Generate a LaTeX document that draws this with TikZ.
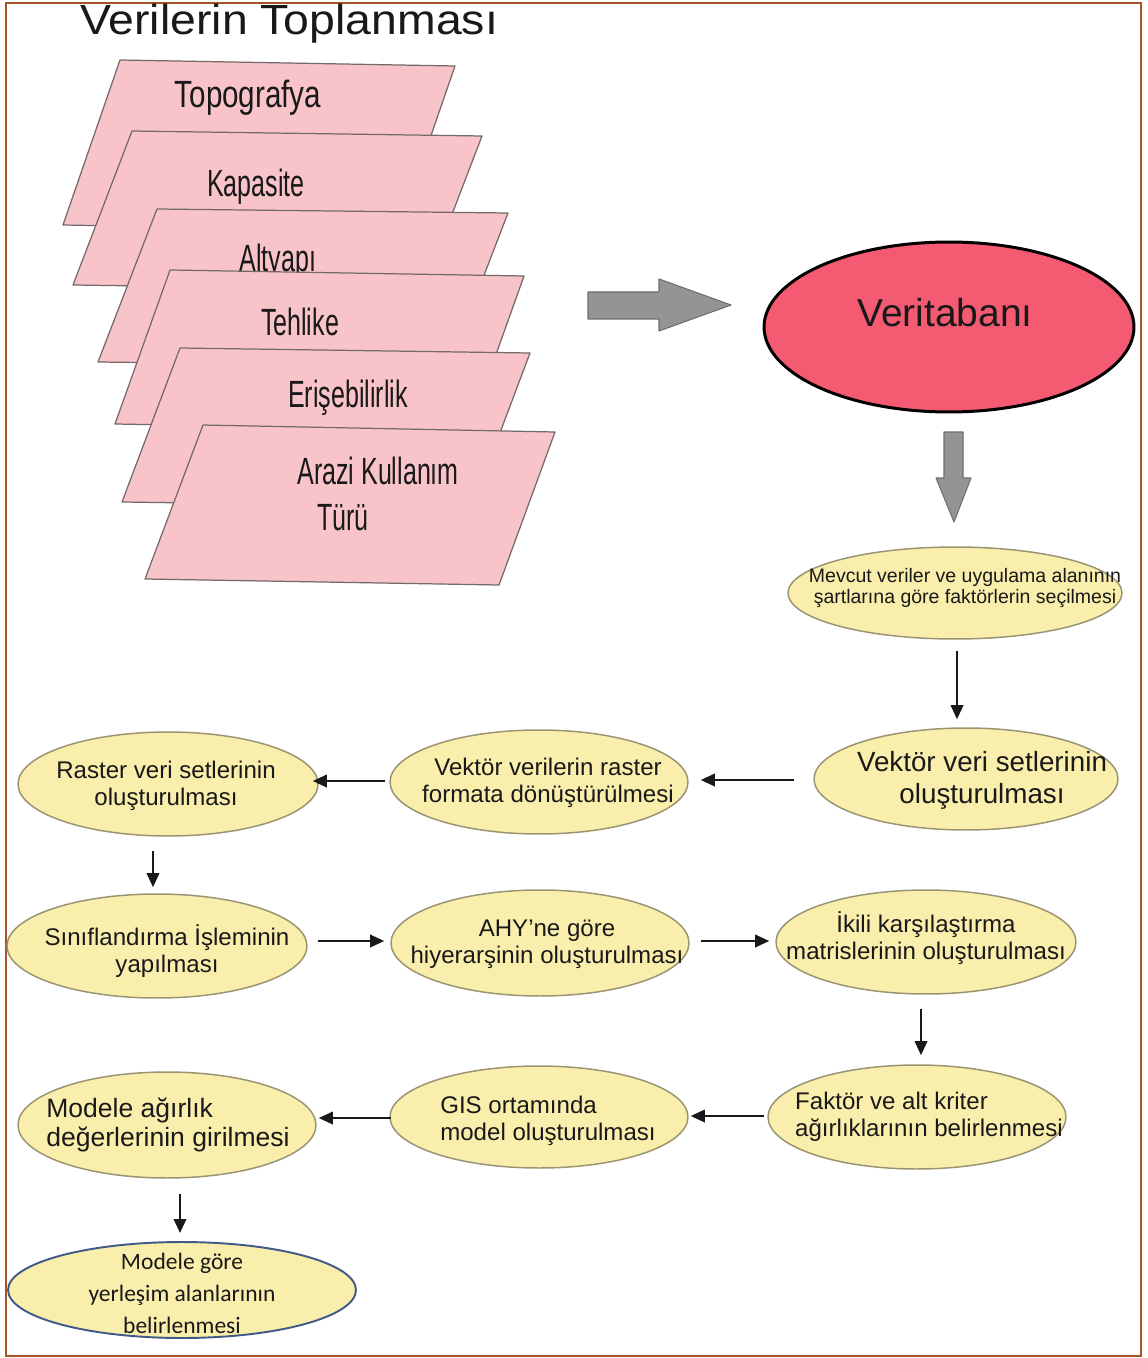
\documentclass[tikz,border=0pt]{standalone}
\usepackage{fontspec}
\setmainfont{Liberation Sans}
\newfontfamily\narrowfont[FakeStretch=0.66]{Liberation Sans}
\newfontfamily\narrowwidefont[FakeStretch=0.78]{Liberation Sans}
\newfontfamily\titlefont[FakeStretch=1.1]{Liberation Sans}
\newfontfamily\calibfont{Carlito}
\usetikzlibrary{shapes.geometric,arrows.meta}

\definecolor{framebrown}{RGB}{165,85,35}
\definecolor{sheetpink}{RGB}{248,196,202}
\definecolor{sheetline}{RGB}{115,105,105}
\definecolor{dbred}{RGB}{245,90,115}
\definecolor{stepyellow}{RGB}{250,238,172}
\definecolor{stepline}{RGB}{155,148,115}
\definecolor{finalblue}{RGB}{65,90,135}
\definecolor{blockgray}{RGB}{148,148,148}
\definecolor{blockline}{RGB}{110,110,110}
\definecolor{ink}{RGB}{25,25,25}

\tikzset{
  sheet/.style={fill=sheetpink, draw=sheetline, line width=0.7pt, line join=round},
  sheettext/.style={inner sep=0pt, text=ink, font=\narrowfont\fontsize{21.6pt}{25pt}\selectfont},
  stepbox/.style={ellipse, inner sep=0pt, fill=stepyellow, draw=stepline, line width=0.85pt},
  steptext/.style={inner sep=0pt, text=ink, align=center, font=\fontsize{13.7pt}{15.4pt}\selectfont},
  blockarrow/.style={fill=blockgray, draw=blockline, line width=0.6pt, line join=round},
  flow/.style={-{Triangle[length=8pt,width=7pt]}, line width=1.4pt, draw=ink},
}

\begin{document}
\begin{tikzpicture}[x=0.02cm, y=-0.02cm]
\useasboundingbox (0,0) rectangle (1148,1358);
\fill[white] (0,0) rectangle (1148,1358);
\draw[framebrown, line width=1.1pt] (6,3) rectangle (1141,1356);

% title
\node[inner sep=0pt, anchor=base west, text=ink, font=\titlefont\fontsize{24pt}{28pt}\selectfont] (title) at (80,35) {Verilerin Toplanması};

% stacked data sheets
\draw[sheet] (120,60) -- (455,66) -- (398,231) -- (63,225) -- cycle;
\node[sheettext, anchor=base, font=\narrowwidefont\fontsize{21.6pt}{25pt}\selectfont] (s1) at (248,108) {Topografya};
\draw[sheet] (132,131) -- (482,136) -- (423,290) -- (73,285) -- cycle;
\node[sheettext, anchor=base] (s2) at (256,197) {Kapasite};
\draw[sheet] (157,209) -- (508,213) -- (449,366) -- (98,362) -- cycle;
\node[sheettext, anchor=base] (s3) at (278,272) {Altyapı};
\draw[sheet] (170,270) -- (524,276) -- (469,430) -- (115,424) -- cycle;
\node[sheettext, anchor=base] (s4) at (300,336) {Tehlike};
\draw[sheet] (180,348) -- (530,353) -- (472,507) -- (122,502) -- cycle;
\node[sheettext, anchor=base] (s5) at (348,407) {Erişebilirlik};
\draw[sheet] (203,425) -- (555,432) -- (499,585) -- (145,579) -- cycle;
\node[sheettext, anchor=base west] (s6a) at (297,484) {Arazi Kullanım};
\node[sheettext, anchor=base west] (s6b) at (317,530) {Türü};

% grey block arrows
\draw[blockarrow] (588,292) -- (659,292) -- (659,279) -- (731,305) -- (659,331) -- (659,319) -- (588,319) -- cycle;
\draw[blockarrow] (944,432) -- (963,432) -- (963,478) -- (971,478) -- (954,522) -- (936,478) -- (944,478) -- cycle;

% database
\node[ellipse, inner sep=0pt, fill=dbred, draw=black, line width=1.7pt,
      minimum width=7.40cm, minimum height=3.40cm] (db) at (949,327) {};
\node[inner sep=0pt, anchor=base, text=ink, font=\fontsize{22.2pt}{26pt}\selectfont] (dbt) at (945,327) {Veritabanı};

% process steps
\node[stepbox, minimum width=6.68cm, minimum height=1.84cm] (e1) at (955,593) {};
\node[steptext, font=\fontsize{11.1pt}{12.5pt}\selectfont] (e1t) at (965,588)
  {Mevcut veriler ve uygulama alanının\\şartlarına göre faktörlerin seçilmesi};

\node[stepbox, minimum width=6.08cm, minimum height=2.04cm] (e2) at (966,779) {};
\node[steptext, font=\fontsize{15.8pt}{18.2pt}\selectfont] (e2t) at (982,780)
  {Vektör veri setlerinin\\oluşturulması};

\node[stepbox, minimum width=5.96cm, minimum height=2.08cm] (e3) at (539,782) {};
\node[steptext] (e3t) at (548,783) {Vektör verilerin raster\\formata dönüştürülmesi};

\node[stepbox, minimum width=6.00cm, minimum height=2.08cm] (e4) at (168,784) {};
\node[steptext] (e4t) at (166,786) {Raster veri setlerinin\\oluşturulması};

\node[stepbox, minimum width=6.00cm, minimum height=2.08cm] (e5) at (157,946) {};
\node[steptext] (e5t) at (167,951) {Sınıflandırma İşleminin\\yapılması};

\node[stepbox, minimum width=5.96cm, minimum height=2.12cm] (e6) at (540,943) {};
\node[steptext] (e6t) at (547,944) {AHY’ne göre\\hiyerarşinin oluşturulması};

\node[stepbox, minimum width=6.00cm, minimum height=2.08cm] (e7) at (926,942) {};
\node[steptext] (e7t) at (926,938) {İkili karşılaştırma\\matrislerinin oluşturulması};

\node[stepbox, minimum width=5.96cm, minimum height=2.08cm] (e8) at (917,1117) {};
\node[steptext, align=left] (e8t) at (929,1117) {Faktör ve alt kriter\\ağırlıklarının belirlenmesi};

\node[stepbox, minimum width=5.96cm, minimum height=2.04cm] (e9) at (539,1117) {};
\node[steptext, align=left] (e9t) at (548,1121) {GIS ortamında\\model oluşturulması};

\node[stepbox, minimum width=5.96cm, minimum height=2.12cm] (e10) at (167,1125) {};
\node[steptext, align=left, font=\fontsize{15.1pt}{16.5pt}\selectfont] (e10t) at (168,1125)
  {Modele ağırlık\\değerlerinin girilmesi};

\node[stepbox, draw=finalblue, line width=1.1pt, minimum width=6.96cm, minimum height=1.92cm] (e11) at (182,1290) {};
\node[steptext, font=\calibfont\fontsize{13.4pt}{18.2pt}\selectfont] (e11t) at (182,1293)
  {Modele göre\\yerleşim alanlarının\\belirlenmesi};

% connectors
\draw[flow] ([shift={(2,11)}]e1.south) -- ([shift={(-9,-8)}]e2.north);
\draw[flow] ([shift={(-19,1)}]e2.west) -- ([shift={(12,-2)}]e3.east);
\draw[flow] ([shift={(-4,-1)}]e3.west) -- ([shift={(-6,-3)}]e4.east);
\draw[flow] ([shift={(-15,14)}]e4.south) -- ([shift={(-4,-6)}]e5.north);
\draw[flow] ([shift={(10,-5)}]e5.east) -- ([shift={(-6,-2)}]e6.west);
\draw[flow] ([shift={(11,-2)}]e6.east) -- ([shift={(-6,-1)}]e7.west);
\draw[flow] ([shift={(-5,14)}]e7.south) -- ([shift={(4,-9)}]e8.north);
\draw[flow] ([shift={(-3,-1)}]e8.west) -- ([shift={(2,-1)}]e9.east);
\draw[flow] ([shift={(2,1)}]e9.west) -- ([shift={(2,-7)}]e10.east);
\draw[flow] ([shift={(13,15)}]e10.south) -- ([shift={(-2,-8)}]e11.north);
\end{tikzpicture}
\end{document}
